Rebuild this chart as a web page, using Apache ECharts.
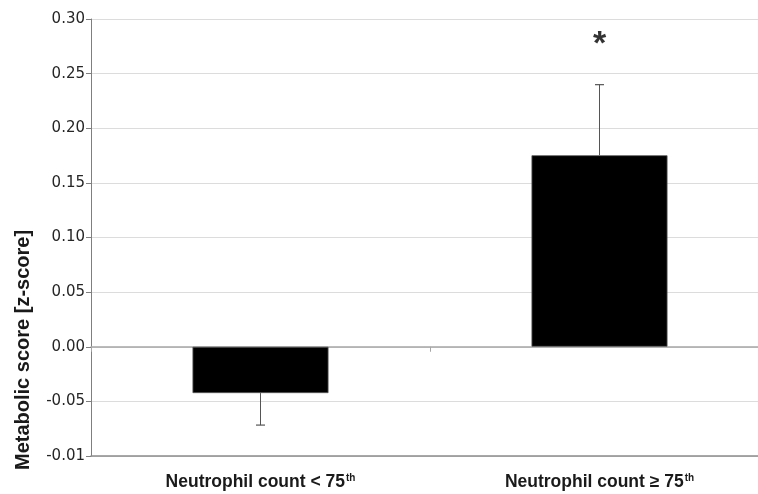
<!DOCTYPE html>
<html>
<head>
<meta charset="utf-8">
<script src="https://cdn.jsdelivr.net/npm/echarts@6/dist/echarts.min.js"></script>
<style>
  html, body { margin: 0; padding: 0; background: #fff; }
  #chart { width: 758px; height: 494px; }
</style>
</head>
<body>
<div id="chart"></div>
<script>
  // 数据
  const categories = ['Neutrophil count < 75', 'Neutrophil count \u2265 75'];
  const meanValues = [-0.0424, 0.1753];
  const errorEnds = [-0.0717, 0.2399];
  const yTickLabels = ['-0.01', '-0.05', '0.00', '0.05', '0.10', '0.15', '0.20', '0.25', '0.30'];
  const starMarks = [[1, 0.277]];

  const chart = echarts.init(document.getElementById('chart'));

  chart.setOption({
    animation: false,
    grid: { left: 91, top: 19, width: 678, height: 437, outerBoundsMode: 'none', containLabel: false },
    xAxis: [
      {
        type: 'category',
        data: categories,
        axisLine: { onZero: false, lineStyle: { color: '#8c8c8c', width: 1.5 } },
        axisTick: { show: false },
        axisLabel: {
          margin: 17,
          formatter: function (v) { return '{b|' + v + '}{s|th}'; },
          rich: {
            b: { fontFamily: 'Liberation Sans', fontWeight: 'bold', fontSize: 17.5, color: '#1a1a1a' },
            s: { fontFamily: 'Liberation Sans', fontWeight: 'bold', fontSize: 10, color: '#1a1a1a', verticalAlign: 'top', padding: [0, 0, 8, 1] }
          }
        }
      },
      {
        type: 'category',
        data: categories,
        position: 'bottom',
        axisLine: { onZero: true, lineStyle: { color: '#a6a6a6', width: 1.5 } },
        axisTick: { show: true, length: 5, lineStyle: { color: '#a6a6a6' } },
        axisLabel: { show: false }
      }
    ],
    yAxis: {
      type: 'value',
      min: -0.1,
      max: 0.3,
      interval: 0.05,
      axisLine: { show: true, lineStyle: { color: '#7f7f7f' } },
      axisTick: { show: true, length: 5, lineStyle: { color: '#7f7f7f' } },
      axisLabel: {
        margin: 6,
        fontFamily: 'DejaVu Sans',
        fontSize: 15,
        color: '#262626',
        formatter: function (v, i) { return yTickLabels[i]; }
      },
      splitLine: { lineStyle: { color: '#dcdcdc', width: 1 } }
    },
    graphic: [
      {
        type: 'text',
        rotation: Math.PI / 2,
        position: [13, 470],
        style: {
          text: 'Metabolic score [z-score]',
          font: 'bold 20px "Liberation Sans"',
          fill: '#1a1a1a'
        }
      }
    ],
    series: [
      {
        type: 'bar',
        data: meanValues,
        barWidth: 136,
        itemStyle: { color: '#000', borderColor: '#595959', borderWidth: 0.8 }
      },
      {
        type: 'custom',
        data: meanValues.map(function (m, i) { return [i, m, errorEnds[i]]; }),
        z: 3,
        renderItem: function (params, api) {
          const start = api.coord([api.value(0), api.value(1)]);
          const end = api.coord([api.value(0), api.value(2)]);
          const cap = 4.5;
          return {
            type: 'group',
            children: [
              { type: 'line', shape: { x1: start[0], y1: start[1], x2: end[0], y2: end[1] }, style: { stroke: '#555', lineWidth: 1 } },
              { type: 'line', shape: { x1: end[0] - cap, y1: end[1], x2: end[0] + cap, y2: end[1] }, style: { stroke: '#555', lineWidth: 1.2 } }
            ]
          };
        }
      },
      {
        type: 'scatter',
        data: starMarks,
        symbolSize: 0,
        label: {
          show: true,
          position: 'inside',
          formatter: '*',
          fontFamily: 'Liberation Sans',
          fontWeight: 'bold',
          fontSize: 34,
          color: '#000'
        }
      }
    ]
  });
</script>
</body>
</html>
